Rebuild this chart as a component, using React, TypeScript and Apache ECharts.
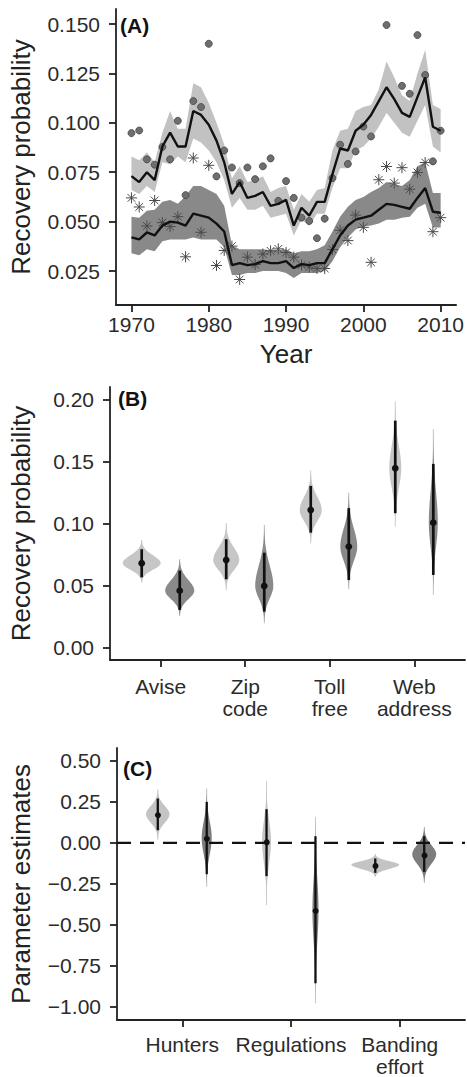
import React, { useEffect, useRef } from "react";
import * as echarts from "echarts";

// ---------- Panel A data ----------
const years = [
  1970, 1971, 1972, 1973, 1974, 1975, 1976, 1977, 1978, 1979,
  1980, 1981, 1982, 1983, 1984, 1985, 1986, 1987, 1988, 1989,
  1990, 1991, 1992, 1993, 1994, 1995, 1996, 1997, 1998, 1999,
  2000, 2001, 2002, 2003, 2004, 2005, 2006, 2007, 2008, 2009, 2010,
];
const lightMean = [
  0.073, 0.070, 0.075, 0.071, 0.088, 0.095, 0.088, 0.088, 0.106, 0.104,
  0.099, 0.091, 0.080, 0.064, 0.070, 0.062, 0.063, 0.065, 0.058, 0.059,
  0.061, 0.048, 0.057, 0.053, 0.060, 0.060, 0.074, 0.087, 0.086, 0.096,
  0.099, 0.104, 0.111, 0.118, 0.112, 0.105, 0.103, 0.113, 0.123, 0.098, 0.096,
];
const lightLo = [
  0.066, 0.064, 0.068, 0.065, 0.080, 0.079, 0.083, 0.080, 0.092, 0.090,
  0.086, 0.080, 0.071, 0.057, 0.062, 0.056, 0.056, 0.058, 0.052, 0.053,
  0.054, 0.043, 0.051, 0.048, 0.054, 0.054, 0.067, 0.077, 0.077, 0.086,
  0.088, 0.092, 0.098, 0.105, 0.100, 0.095, 0.093, 0.101, 0.109, 0.088, 0.085,
];
const lightHi = [
  0.083, 0.081, 0.085, 0.080, 0.095, 0.106, 0.097, 0.097, 0.120, 0.118,
  0.110, 0.100, 0.089, 0.072, 0.078, 0.070, 0.071, 0.073, 0.065, 0.067,
  0.068, 0.056, 0.064, 0.060, 0.066, 0.067, 0.086, 0.096, 0.097, 0.106,
  0.108, 0.109, 0.117, 0.131, 0.123, 0.114, 0.111, 0.125, 0.137, 0.109, 0.107,
];
const darkMean = [
  0.042, 0.041, 0.0445, 0.043, 0.048, 0.050, 0.0495, 0.048, 0.054, 0.053,
  0.052, 0.049, 0.045, 0.028, 0.029, 0.028, 0.0285, 0.030, 0.029, 0.029,
  0.030, 0.0265, 0.0285, 0.028, 0.029, 0.029, 0.036, 0.043, 0.048, 0.051,
  0.052, 0.053, 0.056, 0.059, 0.0585, 0.0575, 0.0565, 0.062, 0.067, 0.055, 0.0545,
];
const darkLo = [
  0.034, 0.033, 0.036, 0.035, 0.040, 0.041, 0.041, 0.041, 0.042, 0.041,
  0.041, 0.041, 0.037, 0.023, 0.023, 0.024, 0.024, 0.025, 0.025, 0.025,
  0.024, 0.0215, 0.024, 0.024, 0.024, 0.025, 0.030, 0.037, 0.042, 0.046,
  0.0475, 0.048, 0.049, 0.051, 0.051, 0.052, 0.0525, 0.057, 0.059, 0.047, 0.047,
];
const darkHi = [
  0.0525, 0.052, 0.0555, 0.056, 0.060, 0.061, 0.059, 0.063, 0.068, 0.068,
  0.066, 0.064, 0.058, 0.038, 0.036, 0.036, 0.036, 0.036, 0.0355, 0.0355,
  0.036, 0.034, 0.035, 0.035, 0.036, 0.038, 0.045, 0.0525, 0.0575, 0.061,
  0.0625, 0.065, 0.067, 0.070, 0.069, 0.068, 0.071, 0.078, 0.080, 0.0645, 0.0645,
];
const circleObs: (number | null)[] = [
  0.0948, 0.0961, 0.0815, 0.0788, 0.0878, 0.0815, 0.101, 0.0634, 0.111, 0.108,
  0.140, 0.0729, 0.086, 0.0774, 0.0695, 0.0774, 0.0715, 0.078, 0.082, 0.0605,
  0.0705, 0.062, 0.052, 0.0503, 0.0416, 0.0515, 0.072, 0.0889, 0.0792, 0.0855,
  0.0981, 0.0931, null, 0.1495, null, 0.1187, 0.1147, 0.1444, 0.1242, 0.0805, 0.096,
];
const starObs = [
  0.062, 0.0574, 0.0478, 0.0607, 0.0495, 0.0475, 0.0525, 0.0322, 0.0822, 0.0446,
  0.0785, 0.0278, 0.0354, 0.0376, 0.0207, 0.032, 0.0283, 0.0336, 0.0352, 0.0362,
  0.0344, 0.032, 0.028, 0.027, 0.0263, 0.0263, 0.0359, 0.0456, 0.0404, 0.0533,
  0.0471, 0.0294, 0.0712, 0.0779, 0.0695, 0.0773, 0.0664, 0.0749, 0.0799, 0.0449, 0.052,
];
const yearTicks = [1970, 1980, 1990, 2000, 2010];
const yTicksA = [0.025, 0.05, 0.075, 0.1, 0.125, 0.15];

// ---------- Panel B data ----------
const categoriesB = ["Avise", "Zip\ncode", "Toll\nfree", "Web\naddress"];
const bLightMid = [0.068, 0.0706, 0.111, 0.1448];
const bLightCiLo = [0.0566, 0.055, 0.0927, 0.1084];
const bLightCiHi = [0.0793, 0.0874, 0.1305, 0.1833];
const bLightLo = [0.0523, 0.0464, 0.0841, 0.0976];
const bLightHi = [0.0868, 0.1003, 0.1429, 0.1987];
const bLightDensity = [0.225, 0.154, 0.13, 0.071];
const bDarkMid = [0.0458, 0.0496, 0.0814, 0.1008];
const bDarkCiLo = [0.0302, 0.0288, 0.0544, 0.0585];
const bDarkCiHi = [0.062, 0.0765, 0.1125, 0.1483];
const bDarkLo = [0.0253, 0.0194, 0.0469, 0.0423];
const bDarkHi = [0.0712, 0.099, 0.125, 0.1764];
const bDarkDensity = [0.172, 0.107, 0.1, 0.053];
const yTicksB = [0, 0.05, 0.1, 0.15, 0.2];

// ---------- Panel C data ----------
const categoriesC = ["Hunters", "Regulations", "Banding\neffort"];
const cLightMid = [0.175, 0.0104, -0.134];
const cLightCiLo = [0.0774, -0.203, -0.183];
const cLightCiHi = [0.2707, 0.2055, -0.095];
const cLightLo = [0.0207, -0.38, -0.207];
const cLightHi = [0.3256, 0.378, -0.069];
const cLightDensity = [0.108, 0.041, 0.22];
const cDarkMid = [0.0305, -0.41, -0.069];
const cDarkCiLo = [-0.191, -0.857, -0.177];
const cDarkCiHi = [0.25, 0.0408, 0.041];
const cDarkLo = [-0.268, -0.979, -0.244];
const cDarkHi = [0.3317, 0.1585, 0.0976];
const cDarkDensity = [0.046, 0.028, 0.11];
const yTicksC = [-1, -0.75, -0.5, -0.25, 0, 0.25, 0.5];

const FONT = "Liberation Sans";
const DODGE = 0.225;
const ASTERISK = "path://M5 0 L5 10 M0 5 L10 5 M1.5 1.5 L8.5 8.5 M1.5 8.5 L8.5 1.5";

function violinRows(
  mid: number[], ciLo: number[], ciHi: number[], lo: number[], hi: number[], dens: number[], offset: number
) {
  return mid.map((m, i) => [i + 1 + offset, m, ciLo[i], ciHi[i], lo[i], hi[i], dens[i]]);
}

function violinRenderer(fill: string, dotR: number, ciW: number) {
  return (params: any, api: any) => {
    const x = api.value(0);
    const mid = api.value(1);
    const ciLo = api.value(2);
    const ciHi = api.value(3);
    const lo = api.value(4);
    const hi = api.value(5);
    const hw = api.value(6);
    const N = 60;
    const right: number[][] = [];
    const left: number[][] = [];
    for (let k = 0; k <= N; k++) {
      const y = lo + ((hi - lo) * k) / N;
      const s = y >= mid ? (hi - mid) / 3 : (mid - lo) / 3;
      const t = (y - mid) / s;
      const w = hw * Math.exp(-0.5 * t * t);
      right.push(api.coord([x + w, y]));
      left.push(api.coord([x - w, y]));
    }
    const pts = right.concat(left.reverse());
    const pLo = api.coord([x, lo]);
    const pHi = api.coord([x, hi]);
    const cLo = api.coord([x, ciLo]);
    const cHi = api.coord([x, ciHi]);
    const pm = api.coord([x, mid]);
    return {
      type: "group",
      children: [
        { type: "line", shape: { x1: pLo[0], y1: pLo[1], x2: pHi[0], y2: pHi[1] }, style: { stroke: "#cfcfcf", lineWidth: 1 } },
        { type: "polygon", shape: { points: pts }, style: { fill, stroke: null } },
        { type: "line", shape: { x1: cLo[0], y1: cLo[1], x2: cHi[0], y2: cHi[1] }, style: { stroke: "#111", lineWidth: ciW } },
        { type: "circle", shape: { cx: pm[0], cy: pm[1], r: dotR }, style: { fill: "#111" } },
      ],
    };
  };
}

// band drawn once, as one polygon through all [year, lo, hi] rows
function bandRenderer(fill: string) {
  return (params: any, api: any) => {
    if (params.dataIndexInside !== 0) return null;
    const n = params.dataInsideLength;
    const upper: number[][] = [];
    const lower: number[][] = [];
    for (let i = 0; i < n; i++) {
      const x = api.value(0, i);
      upper.push(api.coord([x, api.value(2, i)]));
      lower.push(api.coord([x, api.value(1, i)]));
    }
    return {
      type: "polygon",
      shape: { points: upper.concat(lower.reverse()) },
      style: { fill, stroke: null },
    };
  };
}

const axisLineStyle = { show: true, onZero: false, lineStyle: { color: "#222", width: 1.8 } };
function tick(values: number[]) {
  return { show: true, length: 7, customValues: values, lineStyle: { color: "#222", width: 1.8 } };
}
function label(values: number[], formatter: (v: number) => string, margin: number, extra: any = {}) {
  return {
    show: true,
    customValues: values,
    formatter,
    margin,
    fontSize: 21,
    fontFamily: FONT,
    color: "#2b2b2b",
    ...extra,
  };
}
const nameStyle = { fontSize: 26, fontFamily: FONT, color: "#222" };
const fmtC = (v: number) => (v < -1e-9 ? "\u2212" + Math.abs(v).toFixed(2) : Math.abs(v).toFixed(2));

export default function App() {
  const ref = useRef<HTMLDivElement>(null);
  useEffect(() => {
    if (!ref.current) return;
    const chart = echarts.init(ref.current, undefined, { renderer: "svg" });
    const option: any = {
      animation: false,
      backgroundColor: "#ffffff",
      grid: [
        { left: 116, top: 9, width: 344, height: 296 },
        { left: 110, top: 387, width: 355, height: 273 },
        { left: 117, top: 748, width: 348, height: 273 },
      ],
      xAxis: [
        {
          gridIndex: 0, type: "value", min: 1968, max: 2012,
          name: "Year", nameLocation: "middle", nameGap: 36, nameTextStyle: nameStyle,
          axisLine: axisLineStyle, axisTick: tick(yearTicks),
          axisLabel: label(yearTicks, (v: number) => String(Math.round(v)), 9),
          splitLine: { show: false },
        },
        {
          gridIndex: 1, type: "value", min: 0.4, max: 4.6,
          axisLine: axisLineStyle, axisTick: tick([1, 2, 3, 4]),
          axisLabel: label([1, 2, 3, 4], (v: number) => categoriesB[Math.round(v) - 1], 15, { lineHeight: 22 }),
          splitLine: { show: false },
        },
        {
          gridIndex: 2, type: "value", min: 0.4, max: 3.6,
          axisLine: axisLineStyle, axisTick: tick([1, 2, 3]),
          axisLabel: label([1, 2, 3], (v: number) => categoriesC[Math.round(v) - 1], 13, { lineHeight: 22 }),
          splitLine: { show: false },
        },
      ],
      yAxis: [
        {
          gridIndex: 0, type: "value", min: 0.0078, max: 0.1576,
          name: "Recovery probability", nameLocation: "middle", nameGap: 82, nameTextStyle: nameStyle,
          axisLine: axisLineStyle, axisTick: tick(yTicksA),
          axisLabel: label(yTicksA, (v: number) => v.toFixed(3), 16),
          splitLine: { show: false },
        },
        {
          gridIndex: 1, type: "value", min: -0.0103, max: 0.2105,
          name: "Recovery probability", nameLocation: "middle", nameGap: 76, nameTextStyle: nameStyle,
          axisLine: axisLineStyle, axisTick: tick(yTicksB),
          axisLabel: label(yTicksB, (v: number) => Math.abs(v).toFixed(2), 16),
          splitLine: { show: false },
        },
        {
          gridIndex: 2, type: "value", min: -1.081, max: 0.579,
          name: "Parameter estimates", nameLocation: "middle", nameGap: 83, nameTextStyle: nameStyle,
          axisLine: axisLineStyle, axisTick: tick(yTicksC),
          axisLabel: label(yTicksC, fmtC, 16),
          splitLine: { show: false },
        },
      ],
      graphic: [
        { type: "text", x: 120, y: 25, style: { text: "(A)", fontSize: 21, fontWeight: "bold", fontFamily: FONT, fill: "#111", align: "left", verticalAlign: "middle" } },
        { type: "text", x: 118, y: 398, style: { text: "(B)", fontSize: 21, fontWeight: "bold", fontFamily: FONT, fill: "#111", align: "left", verticalAlign: "middle" } },
        { type: "text", x: 123, y: 768, style: { text: "(C)", fontSize: 21, fontWeight: "bold", fontFamily: FONT, fill: "#111", align: "left", verticalAlign: "middle" } },
      ],
      series: [
        // confidence bands
        {
          type: "custom", xAxisIndex: 0, yAxisIndex: 0, silent: true,
          renderItem: bandRenderer("#c2c2c2"),
          encode: { x: 0, y: [1, 2] },
          data: years.map((y, i) => [y, lightLo[i], lightHi[i]]),
        },
        {
          type: "custom", xAxisIndex: 0, yAxisIndex: 0, silent: true,
          renderItem: bandRenderer("#898989"),
          encode: { x: 0, y: [1, 2] },
          data: years.map((y, i) => [y, darkLo[i], darkHi[i]]),
        },
        {
          type: "line", xAxisIndex: 0, yAxisIndex: 0, symbol: "none",
          data: years.map((y, i) => [y, lightMean[i]]), lineStyle: { color: "#111", width: 2.4 },
        },
        {
          type: "line", xAxisIndex: 0, yAxisIndex: 0, symbol: "none",
          data: years.map((y, i) => [y, darkMean[i]]), lineStyle: { color: "#111", width: 2.4 },
        },
        {
          type: "scatter", xAxisIndex: 0, yAxisIndex: 0, symbol: "circle", symbolSize: 7,
          data: years.map((y, i) => (circleObs[i] == null ? null : [y, circleObs[i]])).filter((d) => d !== null),
          itemStyle: { color: "#6e6e6e", borderColor: "#444", borderWidth: 0.8, opacity: 1 },
        },
        {
          type: "scatter", xAxisIndex: 0, yAxisIndex: 0, symbol: ASTERISK, symbolSize: 11,
          data: years.map((y, i) => [y, starObs[i]]),
          itemStyle: { color: "transparent", borderColor: "#4a4a4a", borderWidth: 1, opacity: 1 },
        },
        // panel B violins
        {
          type: "custom", xAxisIndex: 1, yAxisIndex: 1, clip: false,
          renderItem: violinRenderer("#c6c6c6", 3.4, 2.7),
          encode: { x: 0, y: 1 },
          data: violinRows(bLightMid, bLightCiLo, bLightCiHi, bLightLo, bLightHi, bLightDensity, -DODGE),
        },
        {
          type: "custom", xAxisIndex: 1, yAxisIndex: 1, clip: false,
          renderItem: violinRenderer("#8a8a8a", 3.4, 2.7),
          encode: { x: 0, y: 1 },
          data: violinRows(bDarkMid, bDarkCiLo, bDarkCiHi, bDarkLo, bDarkHi, bDarkDensity, DODGE),
        },
        // panel C zero line
        {
          type: "line", xAxisIndex: 2, yAxisIndex: 2, symbol: "none", silent: true,
          data: [[0.4, 0], [3.6, 0]],
          lineStyle: { color: "#111", width: 2.4, type: [14, 9] },
        },
        {
          type: "custom", xAxisIndex: 2, yAxisIndex: 2, clip: false,
          renderItem: violinRenderer("#c4c4c4", 3, 2.3),
          encode: { x: 0, y: 1 },
          data: violinRows(cLightMid, cLightCiLo, cLightCiHi, cLightLo, cLightHi, cLightDensity, -DODGE),
        },
        {
          type: "custom", xAxisIndex: 2, yAxisIndex: 2, clip: false,
          renderItem: violinRenderer("#7d7d7d", 3, 2.3),
          encode: { x: 0, y: 1 },
          data: violinRows(cDarkMid, cDarkCiLo, cDarkCiHi, cDarkLo, cDarkHi, cDarkDensity, DODGE),
        },
      ],
    };
    chart.setOption(option);
    return () => chart.dispose();
  }, []);
  return (
    <div
      ref={ref}
      style={{ position: "absolute", left: 0, top: 0, width: 467, height: 1077, background: "#fff" }}
    />
  );
}
